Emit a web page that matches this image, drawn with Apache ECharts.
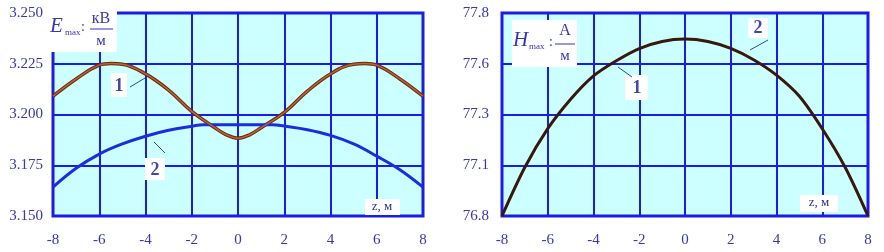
<!DOCTYPE html>
<html><head><meta charset="utf-8">
<script src="https://cdn.jsdelivr.net/npm/echarts@6/dist/echarts.min.js"></script>
<style>html,body{margin:0;padding:0;background:#fff}#c{width:884px;height:252px}</style>
</head><body><div id="c"></div>
<script>
// ---- data ----
const zE1 = [-8,-7,-6,-5.5,-5,-4,-3,-2,-1,-0.5,0,0.5,1,2,3,4,5,5.5,6,7,8];
const E1  = [3.2090,3.2175,3.2243,3.2251,3.2248,3.2200,3.2120,3.2015,3.1935,3.1900,3.1883,3.1900,3.1935,3.2010,3.2115,3.2200,3.2248,3.2251,3.2243,3.2175,3.2090];
const zE2 = [-8,-7,-6,-5,-4,-3,-2,-1.5,-1,0,1,1.5,2,3,4,5,6,7,8];
const E2  = [3.1642,3.1735,3.1805,3.1855,3.1893,3.1922,3.1942,3.1950,3.1950,3.1950,3.1950,3.1950,3.1943,3.1925,3.1897,3.1855,3.1795,3.1728,3.1642];
const zH  = [-8,-7,-6,-5,-4,-3,-2,-1,0,1,2,3,4,5,6,7,8];
const H   = [76.80,77.04,77.23,77.375,77.49,77.565,77.625,77.66,77.672,77.66,77.626,77.57,77.494,77.39,77.23,77.04,76.80];
const xTicks = [-8,-6,-4,-2,0,2,4,6,8];
const yTicksE = ['3.150','3.175','3.200','3.225','3.250'];
const yTicksH = ['76.8','77.1','77.3','77.6','77.8'];

const pair = (xs, ys) => xs.map((x,i)=>[x,ys[i]]);
const BLUE = '#1c1ce8', LBL = '#3535c0', BG = '#ccffff';
const SERIF = '"Liberation Serif","DejaVu Serif",serif';

function xAx(g){return {gridIndex:g,type:'value',min:xTicks[0],max:xTicks[xTicks.length-1],interval:2,
  axisLine:{show:false},axisTick:{show:false},
  axisLabel:{color:LBL,fontFamily:SERIF,fontSize:15,margin:17},
  splitLine:{show:true,lineStyle:{color:BLUE,width:2}}};}
function yAx(g,min,max,interval,labels,margin){return {gridIndex:g,type:'value',min:min,max:max,interval:interval,
  axisLine:{show:false},axisTick:{show:false},
  axisLabel:{color:LBL,fontFamily:SERIF,fontSize:15,margin:margin,
    formatter:(v,i)=>labels[i]!==undefined?labels[i]:''},
  splitLine:{show:true,lineStyle:{color:BLUE,width:2}}};}

function txt(x,y,t,font,fill,align,valign){return {type:'text',z:101,style:{x:x,y:y,text:t,font:font,fill:fill||LBL,align:align||'left',verticalAlign:valign||'top'}};}
function rect(x,y,w,h){return {type:'rect',z:100,shape:{x:x,y:y,width:w,height:h},style:{fill:'#fff'}};}
function seg(x1,y1,x2,y2,c,w){return {type:'line',z:101,shape:{x1:x1,y1:y1,x2:x2,y2:y2},style:{stroke:c||'#2a4f80',lineWidth:w||1}};}
const numFont = 'bold 18px '+SERIF;

const chart = echarts.init(document.getElementById('c'));
chart.setOption({
  animation:false,
  backgroundColor:'#ffffff',
  grid:[
    {left:53,top:13,width:370,height:203,show:true,backgroundColor:BG,borderColor:BLUE,borderWidth:3},
    {left:502,top:13,width:366,height:203,show:true,backgroundColor:BG,borderColor:BLUE,borderWidth:3}
  ],
  xAxis:[xAx(0),xAx(1)],
  yAxis:[yAx(0,3.15,3.25,0.025,yTicksE,10),yAx(1,76.8,77.8,0.25,yTicksH,13)],
  series:[
    {type:'line',xAxisIndex:0,yAxisIndex:0,data:pair(zE1,E1),smooth:0.4,showSymbol:false,lineStyle:{color:'#6e2a10',width:3.5},z:3},
    {type:'line',xAxisIndex:0,yAxisIndex:0,data:pair(zE1,E1),smooth:0.4,showSymbol:false,lineStyle:{color:'#b5652d',width:1.5},z:4},
    {type:'line',xAxisIndex:0,yAxisIndex:0,data:pair(zE2,E2),smooth:0.4,showSymbol:false,lineStyle:{color:'#1a2ee0',width:3},z:3},
    {type:'line',xAxisIndex:1,yAxisIndex:1,data:pair(zH,H),smooth:0.3,showSymbol:false,lineStyle:{color:'#3a1808',width:3},z:3}
  ],
  graphic:[
    // left title
    rect(47,0,70,52),
    txt(50,16,'E','italic 21px '+SERIF),
    txt(65,28,'max','9px '+SERIF),
    txt(81,20,':','14px '+SERIF),
    txt(101,11,'кВ','16px '+SERIF,null,'center'),
    seg(90,29,113,29,LBL,1),
    txt(101,34,'м','15px '+SERIF,null,'center'),
    // right title
    rect(512,20,65,47),
    txt(513,30,'H','italic 21px '+SERIF),
    txt(529,42,'max','9px '+SERIF),
    txt(549,35,':','14px '+SERIF),
    txt(565,23,'A','16px '+SERIF,null,'center'),
    seg(555,44,575,44,LBL,1),
    txt(565,49,'м','15px '+SERIF,null,'center'),
    // curve labels
    rect(111,73,16,24), txt(119,86,'1',numFont,'#4545b0','center','middle'), seg(130,87,145,78),
    rect(145,158,20,22), txt(155,170,'2',numFont,'#4545b0','center','middle'), seg(154,142,165,153),
    rect(625,75,23,25), txt(637,88,'1',numFont,'#4545b0','center','middle'), seg(618,67,632,77),
    rect(748,18,20,20), txt(758,28,'2',numFont,'#4545b0','center','middle'), seg(750,50,768,40),
    // z, m labels
    rect(365,199,35,16), txt(382,207,'z, м','13px '+SERIF,'#303090','center','middle'),
    rect(800,195,38,17), txt(819,203,'z, м','13px '+SERIF,'#303090','center','middle')
  ]
});
</script></body></html>
